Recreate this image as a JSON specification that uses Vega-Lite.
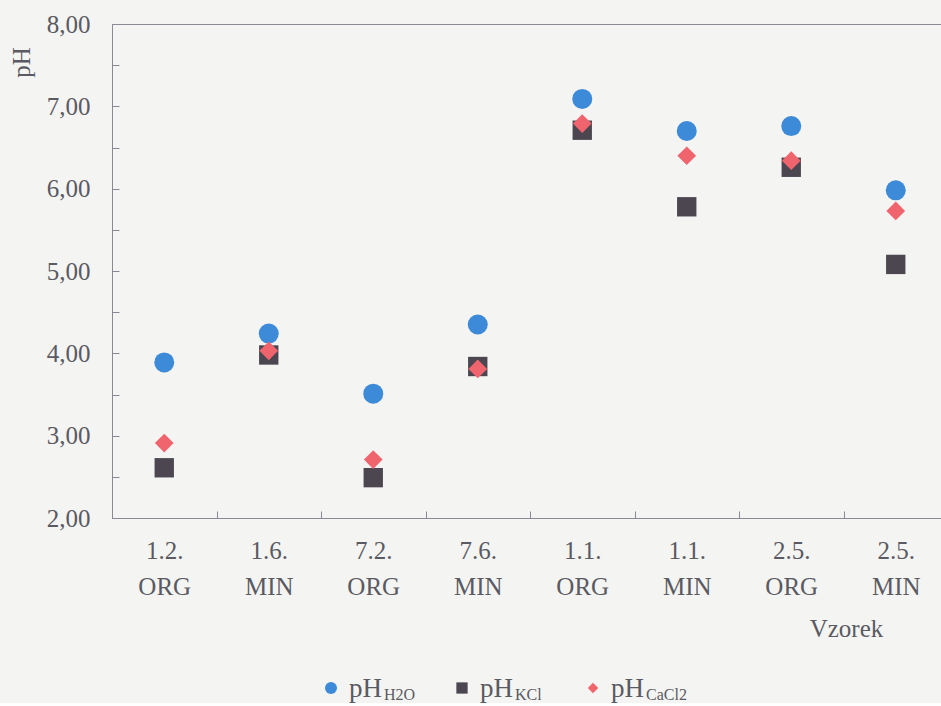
{
  "$schema": "https://vega.github.io/schema/vega-lite/v6.json",
  "background": "#f4f4f2",
  "padding": {"left": 8, "top": 11, "right": 0, "bottom": 0},
  "spacing": 33,
  "datasets": {
    "ph": [
      {"sample": "1.2. ORG", "series": "H2O", "pH": 3.89},
      {"sample": "1.2. ORG", "series": "KCl", "pH": 2.61},
      {"sample": "1.2. ORG", "series": "CaCl2", "pH": 2.91},
      {"sample": "1.6. MIN", "series": "H2O", "pH": 4.24},
      {"sample": "1.6. MIN", "series": "KCl", "pH": 3.98},
      {"sample": "1.6. MIN", "series": "CaCl2", "pH": 4.03},
      {"sample": "7.2. ORG", "series": "H2O", "pH": 3.51},
      {"sample": "7.2. ORG", "series": "KCl", "pH": 2.49},
      {"sample": "7.2. ORG", "series": "CaCl2", "pH": 2.71},
      {"sample": "7.6. MIN", "series": "H2O", "pH": 4.35},
      {"sample": "7.6. MIN", "series": "KCl", "pH": 3.84},
      {"sample": "7.6. MIN", "series": "CaCl2", "pH": 3.81},
      {"sample": "1.1. ORG", "series": "H2O", "pH": 7.09},
      {"sample": "1.1. ORG", "series": "KCl", "pH": 6.71},
      {"sample": "1.1. ORG", "series": "CaCl2", "pH": 6.79},
      {"sample": "1.1. MIN", "series": "H2O", "pH": 6.70},
      {"sample": "1.1. MIN", "series": "KCl", "pH": 5.78},
      {"sample": "1.1. MIN", "series": "CaCl2", "pH": 6.40},
      {"sample": "2.5. ORG", "series": "H2O", "pH": 6.76},
      {"sample": "2.5. ORG", "series": "KCl", "pH": 6.26},
      {"sample": "2.5. ORG", "series": "CaCl2", "pH": 6.34},
      {"sample": "2.5. MIN", "series": "H2O", "pH": 5.98},
      {"sample": "2.5. MIN", "series": "KCl", "pH": 5.08},
      {"sample": "2.5. MIN", "series": "CaCl2", "pH": 5.73}
    ],
    "key": [
      {"series": "H2O"},
      {"series": "KCl"},
      {"series": "CaCl2"}
    ]
  },
  "config": {
    "font": "Liberation Serif",
    "text": {"font": "Liberation Serif"},
    "axis": {
      "labelFont": "Liberation Serif",
      "titleFont": "Liberation Serif",
      "labelColor": "#5a5a62",
      "titleColor": "#5a5a62",
      "domainColor": "#8a8a96",
      "tickColor": "#8a8a96",
      "labelFontSize": 25,
      "titleFontSize": 25,
      "titleFontWeight": "normal",
      "grid": false
    }
  },
  "vconcat": [
    {
      "width": 836,
      "height": 494,
      "view": {"stroke": "#8a8a96", "strokeWidth": 1},
      "data": {"name": "ph"},
      "mark": {"type": "point", "filled": true, "opacity": 1, "strokeWidth": 0},
      "encoding": {
        "x": {
          "field": "sample",
          "type": "nominal",
          "sort": null,
          "scale": {"paddingInner": 0, "paddingOuter": 0},
          "axis": {
            "title": "Vzorek",
            "labelAngle": 0,
            "labelExpr": "datum.value ? split(datum.value, ' ') : ''",
            "labelLineHeight": 36,
            "labelBaseline": "top",
            "labelPadding": 27,
            "tickSize": -7,
            "tickBand": "extent",
            "titleX": 734,
            "titleY": 118,
            "titleAlign": "center",
            "titleBaseline": "alphabetic"
          }
        },
        "y": {
          "field": "pH",
          "type": "quantitative",
          "scale": {"domain": [2, 8], "nice": false, "zero": false},
          "axis": {
            "title": "pH",
            "values": [2, 2.5, 3, 3.5, 4, 4.5, 5, 5.5, 6, 6.5, 7, 7.5, 8],
            "labelExpr": "datum.value % 1 === 0 ? replace(format(datum.value, '.2f'), '.', ',') : ''",
            "tickSize": -7,
            "labelPadding": 29,
            "titleAngle": 270,
            "titleX": -91,
            "titleY": 38,
            "titleAlign": "center",
            "titleBaseline": "middle"
          }
        },
        "color": {
          "field": "series",
          "type": "nominal",
          "scale": {"domain": ["H2O", "KCl", "CaCl2"], "range": ["#3d8bd8", "#4b4650", "#f0646e"]},
          "legend": null
        },
        "shape": {
          "field": "series",
          "type": "nominal",
          "scale": {"domain": ["H2O", "KCl", "CaCl2"], "range": ["circle", "square", "diamond"]},
          "legend": null
        },
        "size": {
          "field": "series",
          "type": "nominal",
          "scale": {"domain": ["H2O", "KCl", "CaCl2"], "range": [400, 350, 400]},
          "legend": null
        }
      }
    },
    {
      "width": 836,
      "height": 20,
      "view": {"stroke": null},
      "data": {"name": "key"},
      "encoding": {
        "x": {
          "field": "series",
          "type": "nominal",
          "sort": null,
          "scale": {"type": "point", "range": [219, 481], "padding": 0},
          "axis": null
        }
      },
      "layer": [
        {
          "mark": {"type": "point", "filled": true, "opacity": 1, "strokeWidth": 0},
          "encoding": {
            "color": {"field": "series", "type": "nominal", "legend": null},
            "shape": {"field": "series", "type": "nominal", "legend": null},
            "size": {
              "field": "series",
              "type": "nominal",
              "scale": {"domain": ["H2O", "KCl", "CaCl2"], "range": [144, 110, 170]},
              "legend": null
            }
          }
        },
        {
          "mark": {"type": "text", "text": "pH", "align": "left", "baseline": "middle", "dx": 18, "dy": 1, "fontSize": 27, "color": "#5a5a62"},
          "encoding": {}
        },
        {
          "mark": {"type": "text", "align": "left", "baseline": "middle", "dx": 53, "dy": 7, "fontSize": 16, "color": "#5a5a62"},
          "encoding": {"text": {"field": "series"}}
        }
      ],
      "resolve": {"scale": {"size": "independent"}}
    }
  ]
}
